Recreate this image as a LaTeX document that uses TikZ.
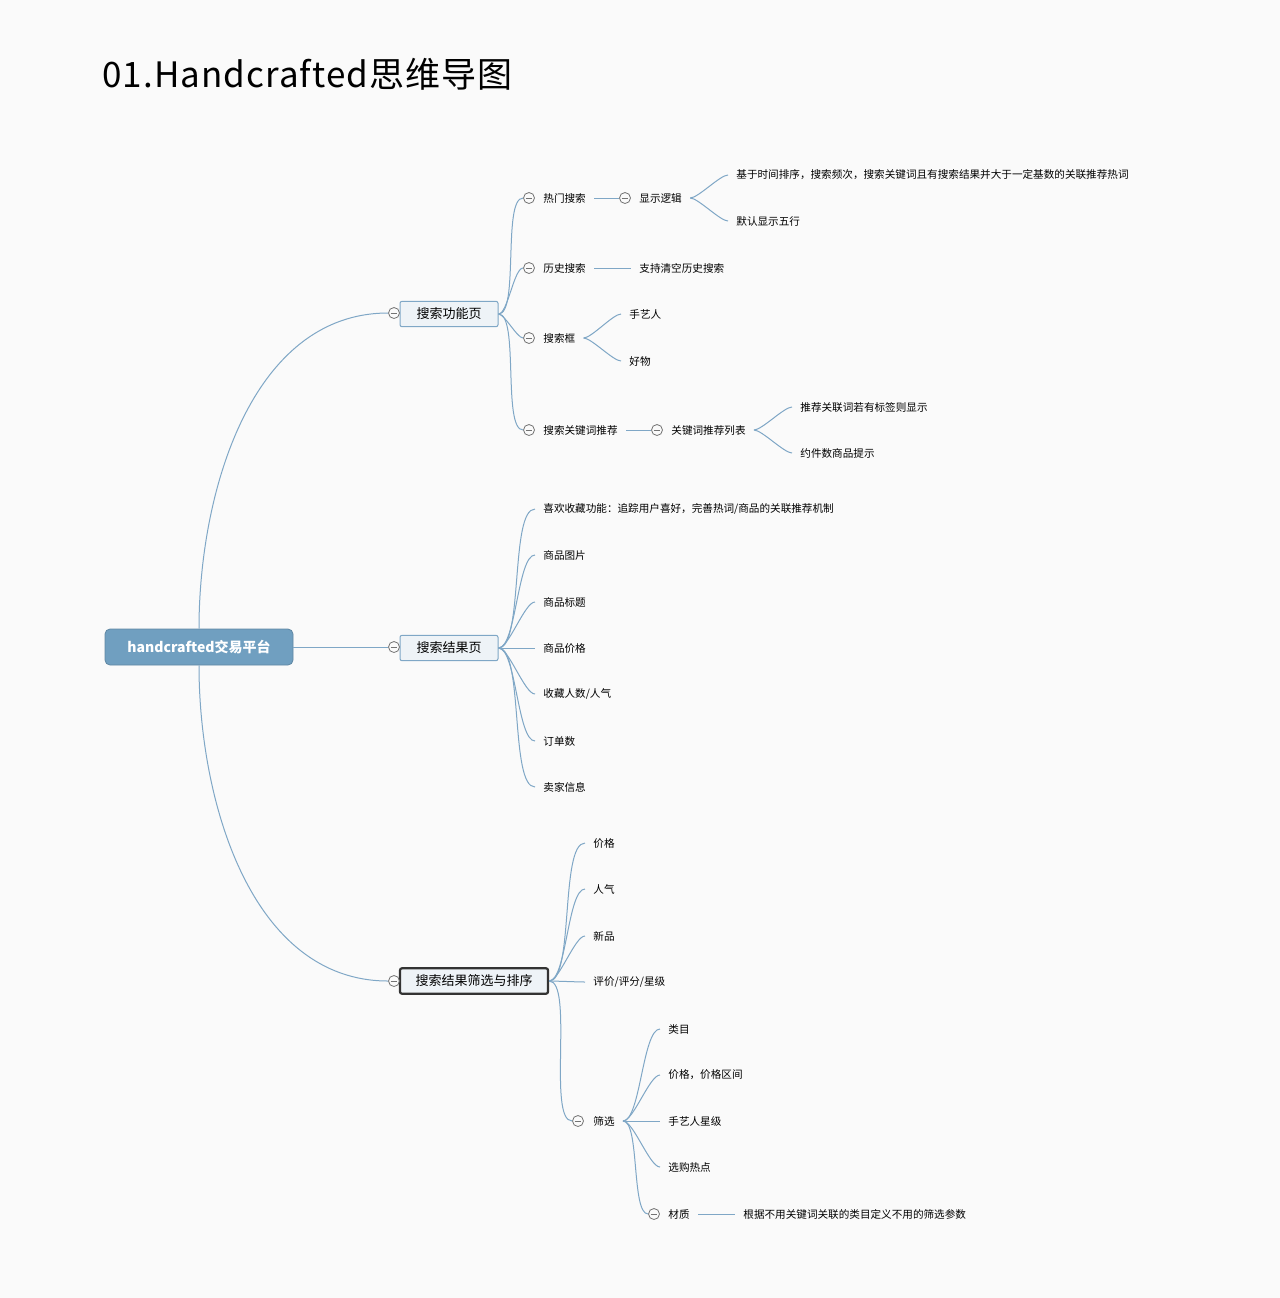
\documentclass[tikz,border=0pt]{standalone}
\usepackage{fontspec}
\setmainfont{Noto Sans CJK SC}
\definecolor{linkblue}{HTML}{7FA7C6}
\definecolor{rootblue}{HTML}{709FC0}
\definecolor{boxfill}{HTML}{EEF3F7}
\definecolor{bgcol}{HTML}{FAFAFA}
\tikzset{
  leaf/.style={anchor=west, inner xsep=4pt, inner ysep=0pt, font=\fontsize{5.3}{6}\selectfont},
  topic/.style={draw=linkblue, fill=boxfill, rounded corners=1pt, line width=0.5pt, minimum height=12pt, inner xsep=0pt, font=\fontsize{6.5}{7}\selectfont},
  fold/.style={circle, draw=black!55, line width=0.4pt, minimum size=5.5pt, inner sep=0pt,
    path picture={\draw[black!55, line width=0.4pt] (-1.7pt,0) -- (1.7pt,0);}},
  link/.style={draw=linkblue, line width=0.5pt},
  curve/.style={link, out=0, in=180, looseness=0.45},
}
\begin{document}
\begin{tikzpicture}[x=0.5pt, y=-0.5pt]
			\fill[bgcol] (0,0) rectangle (1280,1298);
			\useasboundingbox (0,0) rectangle (1280,1298);

			\node[anchor=west, inner sep=0pt, font=\fontsize{17.5}{20}\selectfont\addfontfeatures{LetterSpace=3}] (title) at (102,74) {01.Handcrafted思维导图};

			\node[fill=rootblue, draw=rootblue!85!black, rounded corners=2.5pt, text=white, minimum width=94pt, minimum height=18pt, font=\bfseries\fontsize{7}{8}\selectfont] (root) at (199,647) {handcrafted交易平台};

			% level one
			\node[topic, minimum width=49pt] (search) at (449,314) {搜索功能页};
			\node[topic, minimum width=49pt] (result) at (449,648) {搜索结果页};
			\node[topic, draw=black!80, line width=1.1pt, minimum width=74pt] (sort) at (474,981) {搜索结果筛选与排序};
			\node[fold] (fsearch) at (394,313) {};
			\node[fold] (fresult) at (394,647) {};
			\node[fold] (fsort) at (394,981) {};
			\draw[link] (root.north) to[out=90, in=180, looseness=0.95] (fsearch.west);
			\draw[link] (root.south) to[out=-90, in=180, looseness=0.95] (fsort.west);
			\draw[link] (root.east) -- (fresult.west);

			% search page
			\node[fold] (fhot) at (529,198) {};
			\node[leaf] (hot) at (535,198) {热门搜索};
			\node[fold] (fhist) at (529,268) {};
			\node[leaf] (hist) at (535,268) {历史搜索};
			\node[fold] (fbox) at (529,338) {};
			\node[leaf] (sbox) at (535,338) {搜索框};
			\node[fold] (fkey) at (529,430) {};
			\node[leaf] (key) at (535,430) {搜索关键词推荐};
			\foreach \c in {fhot, fhist, fbox, fkey}
				\draw[curve] (search.east) to (\c.west);

			\node[fold] (flogic) at (625,198) {};
			\node[leaf] (logic) at (631,198) {显示逻辑};
			\draw[link] (hot.east) -- (flogic.west);
			\node[leaf] (rank) at (728,175) {基于时间排序，搜索频次，搜索关键词且有搜索结果并大于一定基数的关联推荐热词};
			\node[leaf] (five) at (728,221) {默认显示五行};
			\foreach \c in {rank, five}
				\draw[curve] (logic.east) to (\c.west);

			\node[leaf] (clear) at (631,268) {支持清空历史搜索};
			\draw[link] (hist.east) -- (clear.west);

			\node[leaf] (artisan) at (621,314) {手艺人};
			\node[leaf] (goods) at (621,361) {好物};
			\foreach \c in {artisan, goods}
				\draw[curve] (sbox.east) to (\c.west);

			\node[fold] (flist) at (657,430) {};
			\node[leaf] (list) at (663,430) {关键词推荐列表};
			\draw[link] (key.east) -- (flist.west);
			\node[leaf] (tag) at (792,407) {推荐关联词若有标签则显示};
			\node[leaf] (count) at (792,453) {约件数商品提示};
			\foreach \c in {tag, count}
				\draw[curve] (list.east) to (\c.west);

			% result page
			\foreach \t/\y [count=\i] in {{喜欢收藏功能：追踪用户喜好，完善热词/商品的关联推荐机制}/509, {商品图片}/555, {商品标题}/602, {商品价格}/648, {收藏人数/人气}/694, {订单数}/741, {卖家信息}/787} {
				\node[leaf] (res\i) at (535,\y) {\t};
				\draw[curve] (result.east) to (res\i.west);
			}

			% sorting and filtering
			\foreach \t/\y [count=\i] in {{价格}/843, {人气}/889, {新品}/936, {评价/评分/星级}/982} {
				\node[leaf] (ord\i) at (585,\y) {\t};
				\draw[curve] (sort.east) to (ord\i.west);
			}
			\node[fold] (ffilter) at (578,1121) {};
			\node[leaf] (filter) at (585,1121) {筛选};
			\draw[curve] (sort.east) to (ffilter.west);

			\foreach \t/\y [count=\i] in {{类目}/1029, {价格，价格区间}/1075, {手艺人星级}/1121, {选购热点}/1167} {
				\node[leaf] (flt\i) at (660,\y) {\t};
				\draw[curve] (filter.east) to (flt\i.west);
			}
			\node[fold] (fmat) at (654,1214) {};
			\node[leaf] (mat) at (660,1214) {材质};
			\draw[curve] (filter.east) to (fmat.west);
			\node[leaf] (param) at (735,1214) {根据不用关键词关联的类目定义不用的筛选参数};
			\draw[link] (mat.east) -- (param.west);
		\end{tikzpicture}
\end{document}
